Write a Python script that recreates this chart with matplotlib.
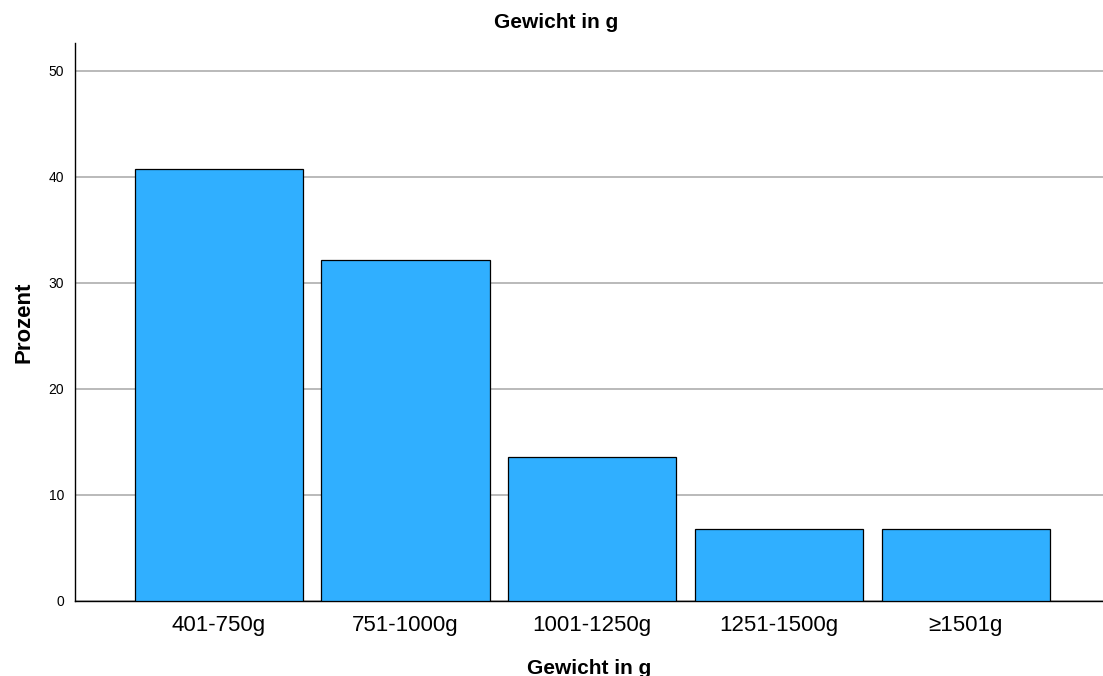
import matplotlib
matplotlib.use("Agg")
import matplotlib.pyplot as plt

plt.rcParams['font.family'] = ['Liberation Sans', 'DejaVu Sans']

categories = ['401-750g', '751-1000g', '1001-1250g', '1251-1500g', '\u22651501g']
prozent = [40.7, 32.2, 13.6, 6.8, 6.8]
yticks = [0, 10, 20, 30, 40, 50]

fig = plt.figure(figsize=(11.03, 6.76), dpi=100)
ax = fig.add_axes([0.068, 0.111, 0.932, 0.825])

x = range(len(categories))
ax.bar(x, prozent, width=0.9, color='#30AFFF', edgecolor='black', linewidth=0.9, zorder=3)

ax.set_xlim(-0.77, 4.735)
ax.set_ylim(0, 52.6)
ax.set_yticks(yticks)
ax.set_xticks(list(x))
ax.set_xticklabels(categories, fontsize=16)
ax.tick_params(axis='y', labelsize=10, length=0, pad=8)
ax.tick_params(axis='x', length=0, pad=10)
ax.yaxis.grid(True, color='#b4b4b4', linewidth=1.3, zorder=0)
ax.set_axisbelow(True)

for s in ['top', 'right']:
    ax.spines[s].set_visible(False)
ax.spines['left'].set_linewidth(1.0)
ax.spines['bottom'].set_linewidth(1.0)

# title sits over the figure centre, not the axes centre
fig.text(0.504, 0.967, 'Gewicht in g', fontsize=15, fontweight='bold', ha='center', va='center')
ax.set_ylabel('Prozent', fontsize=16, fontweight='bold', labelpad=10)
ax.set_xlabel('Gewicht in g', fontsize=15, fontweight='bold', labelpad=17)

fig.savefig('out.png', dpi=100)
